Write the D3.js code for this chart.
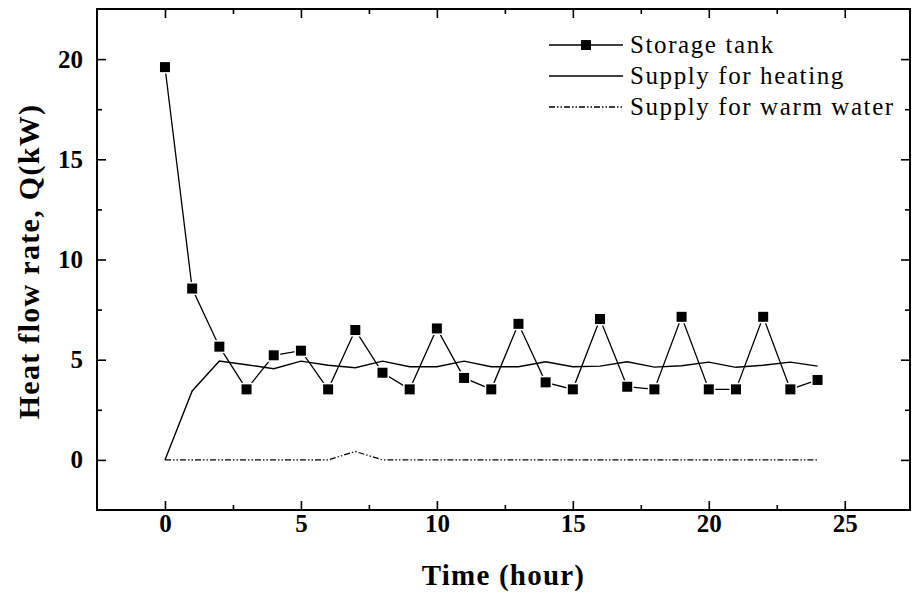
<!DOCTYPE html>
<html>
<head>
<meta charset="utf-8">
<script src="https://cdn.jsdelivr.net/npm/d3@7"></script>
<style>
  body { margin: 0; background: #fff; }
  svg { display: block; }
</style>
</head>
<body>
<script>
// hours 0..24
var hours = d3.range(0, 25);

// Storage tank heat flow (kW)
var storageTank = [19.6, 8.55, 5.65, 3.52, 5.22, 5.45, 3.52, 6.48, 4.35, 3.52, 6.56, 4.09, 3.52,
                   6.79, 3.87, 3.52, 7.03, 3.65, 3.52, 7.14, 3.52, 3.52, 7.14, 3.52, 3.99];

// Supply for heating (kW)
var supplyHeating = [0, 3.44, 4.93, 4.75, 4.55, 4.93, 4.72, 4.6, 4.93, 4.65, 4.65, 4.93, 4.65,
                     4.65, 4.9, 4.65, 4.68, 4.9, 4.63, 4.7, 4.88, 4.62, 4.72, 4.88, 4.68];

// Supply for warm water (kW)
var supplyWarm = [0, 0, 0, 0, 0, 0, 0, 0.42, 0, 0, 0, 0, 0,
                  0, 0, 0, 0, 0, 0, 0, 0, 0, 0, 0, 0];

var xTicks = [0, 5, 10, 15, 20, 25];
var xMinor = [2.5, 7.5, 12.5, 17.5, 22.5];
var yTicks = [0, 5, 10, 15, 20];
var yMinor = [2.5, 7.5, 12.5, 17.5];
var legendNames = ["Storage tank", "Supply for heating", "Supply for warm water"];

var W = 914, H = 602;
// plot frame edges (window.top is reserved, so no "top" here)
var pLeft = 97, pRight = 910, pTop = 9, pBottom = 510;
var serif = "'Liberation Serif', 'Times New Roman', serif";

var svg = d3.select("body").append("svg")
  .attr("width", W)
  .attr("height", H);

var x = d3.scaleLinear().domain([-2.5, 27.4]).range([pLeft, pRight]);
var y = d3.scaleLinear().domain([-2.5, 22.5]).range([pBottom, pTop]);

// axes, ticks pointing inward
function styleAxis(g) {
  g.select(".domain").remove();
  g.selectAll(".tick line").attr("stroke", "#000").attr("stroke-width", 1.6);
  g.selectAll("text")
    .attr("font-family", serif)
    .attr("font-weight", "bold")
    .attr("font-size", 25)
    .attr("fill", "#000");
}

svg.append("g")
  .attr("transform", `translate(0,${pBottom})`)
  .call(d3.axisBottom(x).tickValues(xTicks).tickSizeInner(-9).tickSizeOuter(0).tickPadding(4))
  .call(styleAxis);
svg.append("g")
  .attr("transform", `translate(0,${pBottom})`)
  .call(d3.axisBottom(x).tickValues(xMinor).tickSizeInner(-5).tickSizeOuter(0).tickFormat(""))
  .call(styleAxis);
svg.append("g")
  .attr("transform", `translate(0,${pTop})`)
  .call(d3.axisTop(x).tickValues(xTicks).tickSizeInner(-9).tickSizeOuter(0).tickFormat(""))
  .call(styleAxis);
svg.append("g")
  .attr("transform", `translate(0,${pTop})`)
  .call(d3.axisTop(x).tickValues(xMinor).tickSizeInner(-5).tickSizeOuter(0).tickFormat(""))
  .call(styleAxis);

svg.append("g")
  .attr("transform", `translate(${pLeft},0)`)
  .call(d3.axisLeft(y).tickValues(yTicks).tickSizeInner(-9).tickSizeOuter(0).tickPadding(14))
  .call(styleAxis);
svg.append("g")
  .attr("transform", `translate(${pLeft},0)`)
  .call(d3.axisLeft(y).tickValues(yMinor).tickSizeInner(-5).tickSizeOuter(0).tickFormat(""))
  .call(styleAxis);
svg.append("g")
  .attr("transform", `translate(${pRight},0)`)
  .call(d3.axisRight(y).tickValues(yTicks).tickSizeInner(-9).tickSizeOuter(0).tickFormat(""))
  .call(styleAxis);
svg.append("g")
  .attr("transform", `translate(${pRight},0)`)
  .call(d3.axisRight(y).tickValues(yMinor).tickSizeInner(-5).tickSizeOuter(0).tickFormat(""))
  .call(styleAxis);

// frame
svg.append("rect")
  .attr("x", pLeft).attr("y", pTop)
  .attr("width", pRight - pLeft).attr("height", pBottom - pTop)
  .attr("fill", "none").attr("stroke", "#000").attr("stroke-width", 2);

// axis titles
svg.append("text")
  .attr("x", (pLeft + pRight) / 2)
  .attr("y", 585)
  .attr("text-anchor", "middle")
  .attr("font-family", serif)
  .attr("font-weight", "bold")
  .attr("font-size", 29)
  .attr("letter-spacing", 1.2)
  .attr("fill", "#000")
  .text("Time (hour)");

svg.append("text")
  .attr("transform", `translate(39,${(pTop + pBottom) / 2 + 2}) rotate(-90)`)
  .attr("text-anchor", "middle")
  .attr("font-family", serif)
  .attr("font-weight", "bold")
  .attr("font-size", 30)
  .attr("letter-spacing", 1.3)
  .attr("fill", "#000")
  .text("Heat flow rate, Q(kW)");

// lines
var line = d3.line().x((d, i) => x(hours[i])).y(d => y(d));

svg.append("path")
  .datum(supplyWarm)
  .attr("d", line)
  .attr("fill", "none")
  .attr("stroke", "#000")
  .attr("stroke-width", 1.2)
  .attr("stroke-dasharray", "6,2,1.5,2,1.5,2");

svg.append("path")
  .datum(supplyHeating)
  .attr("d", line)
  .attr("fill", "none")
  .attr("stroke", "#000")
  .attr("stroke-width", 1.4);

svg.append("path")
  .datum(storageTank)
  .attr("d", line)
  .attr("fill", "none")
  .attr("stroke", "#000")
  .attr("stroke-width", 1.3);

// square markers with white halo
var sq = 10;
svg.append("g")
  .selectAll("rect")
  .data(storageTank)
  .join("rect")
  .attr("x", (d, i) => x(hours[i]) - sq / 2)
  .attr("y", d => y(d) - sq / 2)
  .attr("width", sq).attr("height", sq)
  .attr("fill", "#000")
  .attr("stroke", "#fff")
  .attr("stroke-width", 3)
  .attr("paint-order", "stroke");

// legend
var legend = svg.append("g");
var rowY = [45, 76, 107];
var dashes = [null, null, "6,2,1.5,2,1.5,2"];
legendNames.forEach(function (name, i) {
  legend.append("line")
    .attr("x1", 549).attr("x2", 623)
    .attr("y1", rowY[i]).attr("y2", rowY[i])
    .attr("stroke", "#000")
    .attr("stroke-width", 1.3)
    .attr("stroke-dasharray", dashes[i]);
  if (i === 0) {
    legend.append("rect")
      .attr("x", 586 - sq / 2).attr("y", rowY[i] - sq / 2)
      .attr("width", sq).attr("height", sq)
      .attr("fill", "#000");
  }
  legend.append("text")
    .attr("x", 630)
    .attr("y", rowY[i] + 8)
    .attr("font-family", serif)
    .attr("font-size", 25)
    .attr("letter-spacing", 1.6)
    .attr("fill", "#000")
    .text(name);
});
</script>
</body>
</html>
